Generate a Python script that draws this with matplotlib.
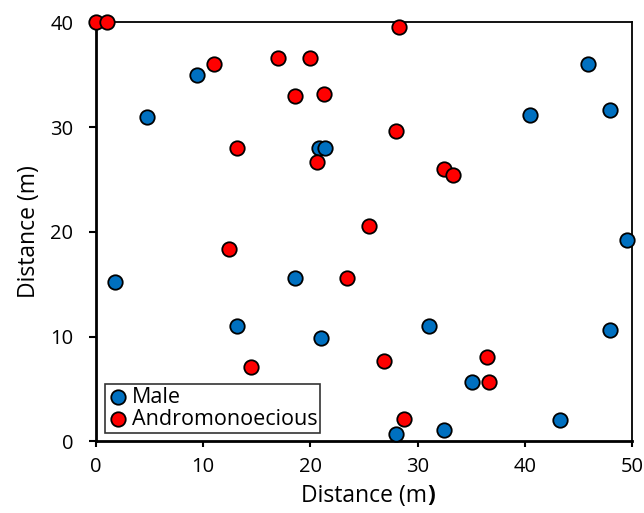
import matplotlib
matplotlib.use('Agg')
import matplotlib.pyplot as plt

# Male plants (x, y in m)
male_x = [9.4, 4.8, 20.8, 21.4, 40.5, 45.9, 47.9, 49.5, 1.8, 18.6,
          13.2, 31.1, 21.0, 47.9, 35.1, 43.3, 32.5, 28.0]
male_y = [35.0, 31.0, 28.0, 28.0, 31.2, 36.0, 31.6, 19.2, 15.2, 15.6,
          11.0, 11.0, 9.85, 10.6, 5.65, 2.05, 1.1, 0.7]

# Andromonoecious plants
andro_x = [0.0, 1.05, 28.3, 17.0, 20.0, 11.0, 18.55, 21.3, 13.2, 20.6,
           28.0, 32.5, 33.3, 25.5, 12.4, 23.4, 14.5, 26.9, 36.5, 36.7, 28.7]
andro_y = [40.0, 40.0, 39.6, 36.6, 36.6, 36.0, 33.0, 33.2, 28.0, 26.7,
           29.6, 26.0, 25.4, 20.6, 18.4, 15.6, 7.1, 7.7, 8.1, 5.65, 2.1]

x_ticks = [0, 10, 20, 30, 40, 50]
y_ticks = [0, 10, 20, 30, 40]

plt.rcParams['font.family'] = ['Open Sans', 'DejaVu Sans']

fig = plt.figure(figsize=(6.44, 5.13), dpi=100)
ax = fig.add_axes([0.1486, 0.1394, 0.833, 0.817])

ax.scatter(male_x, male_y, s=108, color='#0070C0', edgecolor='black',
           linewidth=1.3, label='Male', clip_on=False, zorder=3)
ax.scatter(andro_x, andro_y, s=108, color='#FF0000', edgecolor='black',
           linewidth=1.3, label='Andromonoecious', clip_on=False, zorder=3)

ax.set_xlim(0, 50)
ax.set_ylim(0, 40)
ax.set_xticks(x_ticks)
ax.set_yticks(y_ticks)
ax.tick_params(axis='x', direction='out', length=4.5, width=1.5, pad=7, labelsize=14.5)
ax.tick_params(axis='y', direction='out', length=5, width=1.5, pad=11, labelsize=14.5)

for side in ['bottom', 'left']:
    ax.spines[side].set_linewidth(2.0)
for side in ['top', 'right']:
    ax.spines[side].set_linewidth(1.3)

ax.set_ylabel('Distance (m)', fontsize=16.5, labelpad=7)
xl = ax.set_xlabel('Distance (m', fontsize=16.5, labelpad=5)
ax.annotate(')', xy=(1, 0), xycoords=xl, va='bottom', ha='left',
            fontsize=16.5, fontweight='bold')

leg = ax.legend(loc='lower left', bbox_to_anchor=(0.0168, 0.021),
                borderaxespad=0, fancybox=False, frameon=True,
                edgecolor='black', fontsize=15.5, handletextpad=0.15,
                handlelength=1.0, borderpad=0.12, labelspacing=0.05,
                markerscale=1.0)
leg.get_frame().set_linewidth(1.2)

plt.savefig('out.png', dpi=100)
plt.close()
